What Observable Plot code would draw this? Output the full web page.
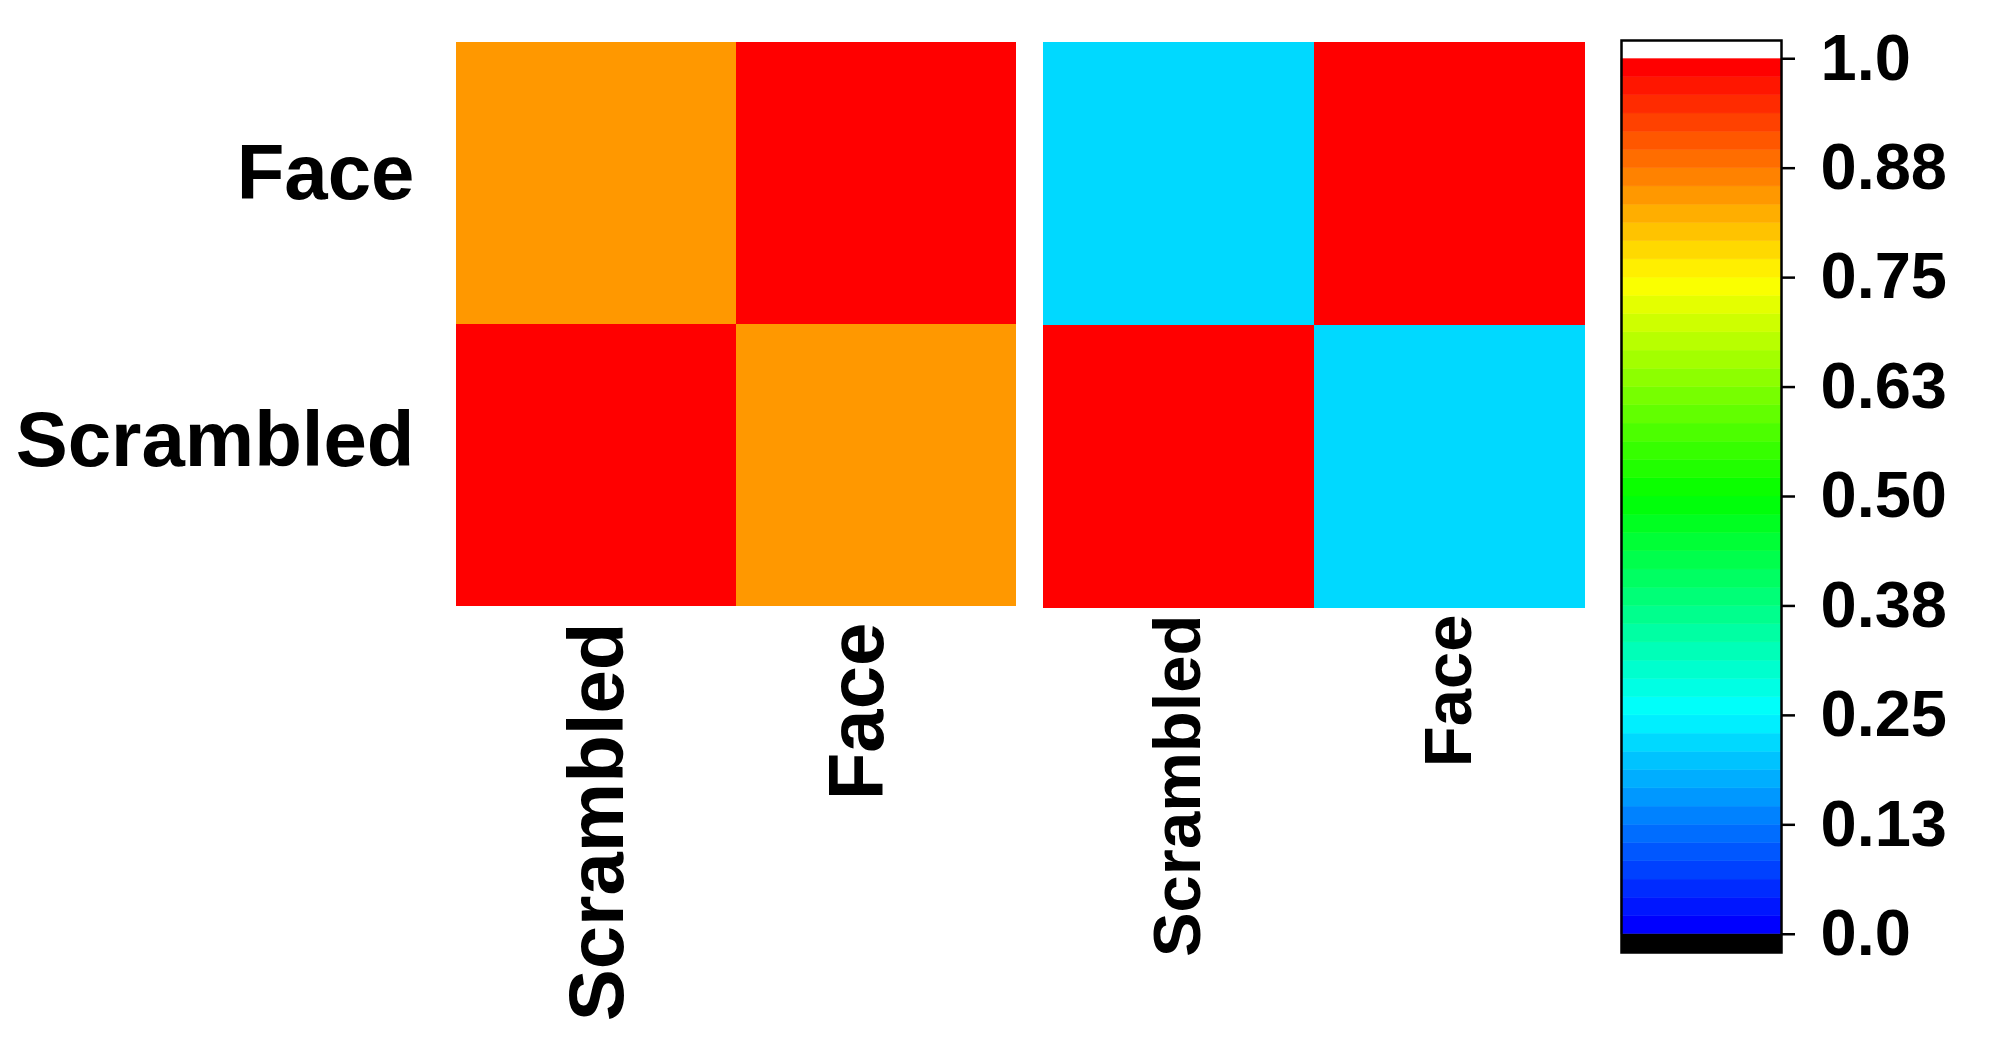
<!DOCTYPE html>
<html>
<head>
<meta charset="utf-8">
<script src="https://cdn.jsdelivr.net/npm/d3@7"></script>
<script src="https://cdn.jsdelivr.net/npm/@observablehq/plot@0.6"></script>
<style>
  html, body { margin: 0; padding: 0; background: #fff; }
  #wrap { position: relative; width: 2008px; height: 1048px; overflow: hidden; background: #fff; }
  #wrap > svg { position: absolute; top: 0; }
</style>
</head>
<body>
<div id="wrap"></div>
<script>
// ---- data ----
const rowCats = ["Face", "Scrambled"];          // y categories (top to bottom)
const colCats = ["Scrambled", "Face"];          // x categories (left to right)
// left panel values [row][col]
const leftValues = [
  [0.85, 1.0],   // Face: Scrambled, Face
  [1.0, 0.85]    // Scrambled: Scrambled, Face
];
// right panel values [row][col]
const rightValues = [
  [0.22, 1.0],
  [1.0, 0.22]
];
const colorStops = ["#0000ff", "#00ffff", "#00ff00", "#ffff00", "#ff0000"];
const nBands = 48;
const tickValues = [0, 0.125, 0.25, 0.375, 0.5, 0.625, 0.75, 0.875, 1];
const tickLabels = ["0.0", "0.13", "0.25", "0.38", "0.50", "0.63", "0.75", "0.88", "1.0"];

// ---- helpers ----
const interp = d3.piecewise(d3.interpolateRgb, colorStops);
const bandColors = d3.range(nBands).map(i => interp(i / (nBands - 1)));
const thresholds = d3.range(1, nBands).map(i => i / nBands);
const colorOpts = {type: "threshold", domain: thresholds, range: bandColors};

function cellsOf(values) {
  const out = [];
  rowCats.forEach((r, i) => colCats.forEach((c, j) => out.push({row: r, col: c, value: values[i][j]})));
  return out;
}
const FONT = "'Liberation Sans', Arial, Helvetica, sans-serif";
const wrap = document.getElementById("wrap");

// ---- left heatmap with row labels ----
const leftXLabel = {Scrambled: 26, Face: 6};
const leftYLabel = {Face: -9, Scrambled: -24};
const left = Plot.plot({
  width: 1030, height: 1048,
  marginLeft: 456, marginRight: 14, marginTop: 41, marginBottom: 442,
  style: {fontFamily: FONT, fontWeight: "bold", color: "#000", background: "transparent"},
  x: {domain: colCats, padding: 0, axis: null},
  y: {domain: rowCats, padding: 0, axis: null},
  color: colorOpts,
  marks: [
    Plot.cell(cellsOf(leftValues), {x: "col", y: "row", fill: "value", inset: 0}),
    ...rowCats.map(r => Plot.text([r], {y: d => d, frameAnchor: "left", textAnchor: "end",
      dx: -42, dy: leftYLabel[r], fontSize: 78, fontWeight: "bold", fill: "#000"})),
    ...colCats.map(c => Plot.text([c], {x: d => d, frameAnchor: "bottom", textAnchor: "end", rotate: -90,
      dx: leftXLabel[c], dy: 16, fontSize: 78, fontWeight: "bold", fill: "#000"}))
  ]
});
left.style.left = "0px";
wrap.appendChild(left);

// ---- right heatmap ----
const right = Plot.plot({
  width: 580, height: 1048,
  marginLeft: 13, marginRight: 25, marginTop: 41, marginBottom: 440,
  style: {fontFamily: FONT, fontWeight: "bold", color: "#000", background: "transparent"},
  x: {domain: colCats, padding: 0, axis: null},
  y: {domain: rowCats, padding: 0, axis: null},
  color: colorOpts,
  marks: [
    Plot.cell(cellsOf(rightValues), {x: "col", y: "row", fill: "value", inset: 0}),
    Plot.text(colCats, {x: d => d, frameAnchor: "bottom", textAnchor: "end", rotate: -90,
      dx: 21, dy: 6, fontSize: 67, fontWeight: "bold", fill: "#000"})
  ]
});
right.style.left = "1030px";
wrap.appendChild(right);

// ---- colorbar ----
const bands = d3.range(nBands).map(i => ({lo: i / nBands, hi: (i + 1) / nBands, v: (i + 0.5) / nBands}));
const under = [{lo: -1 / nBands, hi: 0}];
const over = [{lo: 1, hi: 1 + 1 / nBands}];
const bar = Plot.plot({
  width: 408, height: 1048,
  marginLeft: 21, marginRight: 227, marginTop: 40, marginBottom: 96,
  style: {fontFamily: FONT, fontWeight: "bold", color: "#000", background: "transparent"},
  x: {axis: null},
  y: {domain: [-1 / nBands, 1 + 1 / nBands], axis: null},
  color: colorOpts,
  marks: [
    Plot.rect(bands, {y1: "lo", y2: "hi", fill: "v", stroke: "v", strokeWidth: 0.5}),
    Plot.rect(under, {y1: "lo", y2: "hi", fill: "black"}),
    Plot.rect(over, {y1: "lo", y2: "hi", fill: "white"}),
    Plot.frame({stroke: "black", strokeWidth: 2.5}),
    Plot.axisY(tickValues, {anchor: "right", tickSize: 13, tickPadding: 26, strokeWidth: 2.5,
      tickFormat: d => tickLabels[tickValues.indexOf(d)], fontSize: 65, fontWeight: "bold", label: null})
  ]
});
bar.style.left = "1600px";
wrap.appendChild(bar);
</script>
</body>
</html>
